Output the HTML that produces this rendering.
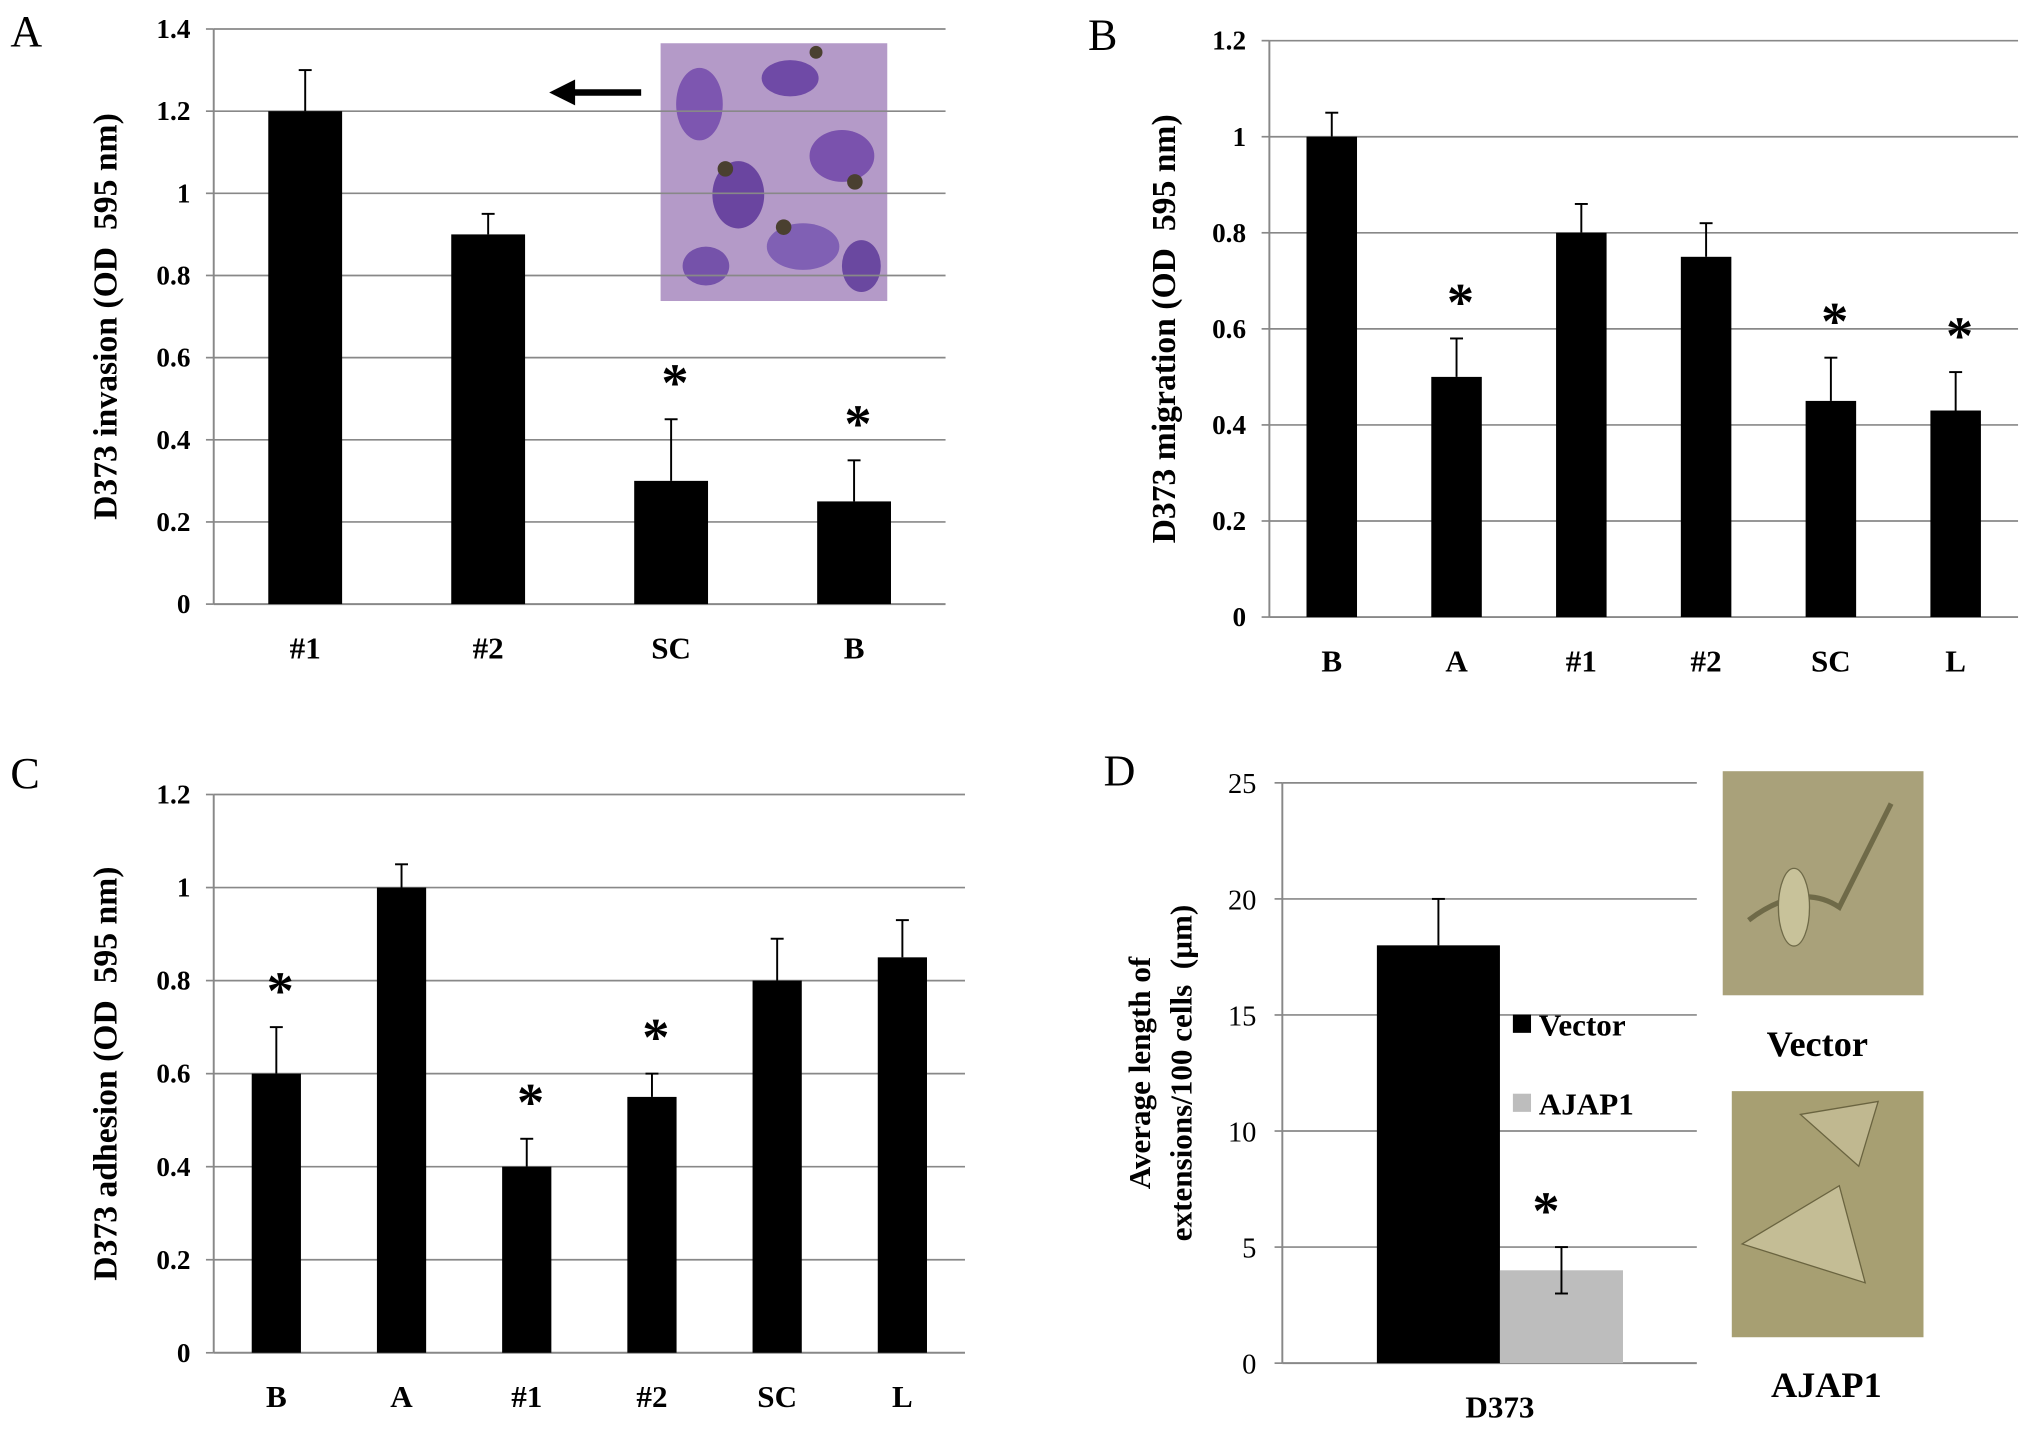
<!DOCTYPE html>
<html><head><meta charset="utf-8">
<style>
html,body{margin:0;padding:0;background:#fff;}
svg{display:block;}
text{font-family:"Liberation Serif",serif;white-space:pre;}
</style></head>
<body>
<svg id="fig" width="2031" height="1431" viewBox="0 0 1568 1104" xmlns="http://www.w3.org/2000/svg" xml:space="preserve">
<rect width="1568" height="1104" fill="#fff"/>
<g id="decor">
  <text x="8" y="35" font-size="34">A</text>
  <text x="840" y="38" font-size="34">B</text>
  <text x="8" y="608" font-size="34">C</text>
  <text x="852" y="606" font-size="34">D</text>
  <g>
    <rect x="510" y="33" width="175" height="199" fill="#b49ac8"/>
    <ellipse cx="540" cy="80" rx="18" ry="28" fill="#7d56b0"/>
    <ellipse cx="610" cy="60" rx="22" ry="14" fill="#6f4aa6"/>
    <ellipse cx="650" cy="120" rx="25" ry="20" fill="#7a52ad"/>
    <ellipse cx="570" cy="150" rx="20" ry="26" fill="#6a45a0"/>
    <ellipse cx="620" cy="190" rx="28" ry="18" fill="#8060b4"/>
    <ellipse cx="545" cy="205" rx="18" ry="15" fill="#7552aa"/>
    <ellipse cx="665" cy="205" rx="15" ry="20" fill="#6a48a0"/>
    <circle cx="560" cy="130" r="6" fill="#4a4030"/><circle cx="605" cy="175" r="6" fill="#4a4030"/>
    <circle cx="660" cy="140" r="6" fill="#4a4030"/><circle cx="630" cy="40" r="5" fill="#4a4030"/>
  </g>
  <g>
    <line x1="495" y1="71" x2="440" y2="71" stroke="#000" stroke-width="5"/>
    <polygon points="424,71 444,61 444,81" fill="#000"/>
  </g>
  <g>
    <rect x="1330" y="595" width="155" height="173" fill="#a9a17a"/>
    <path d="M1350 710 Q1390 680 1420 700 L1460 620" stroke="#6f6a48" stroke-width="4" fill="none"/>
    <ellipse cx="1385" cy="700" rx="12" ry="30" fill="#c8c29a" stroke="#6f6a48"/>
  </g>
  <g>
    <rect x="1337" y="842" width="148" height="190" fill="#a79f72"/>
    <polygon points="1345,960 1420,915 1440,990" fill="#c4bd95" stroke="#6a6440"/>
    <polygon points="1390,860 1450,850 1435,900" fill="#c0b890" stroke="#6a6440"/>
  </g>
  <text x="1403" y="815" font-size="28" font-weight="bold" text-anchor="middle">Vector</text>
  <text x="1410" y="1078" font-size="28" font-weight="bold" text-anchor="middle">AJAP1</text>
</g>
<g id="charts"></g>
</svg>
<script>
// Panel A data
const catsA = ["#1","#2","SC","B"];
const valsA = [1.2,0.9,0.3,0.25];
const errA = [0.1,0.05,0.15,0.1];
const starA = [false,false,true,true];
const ticksA = [0,0.2,0.4,0.6,0.8,1,1.2,1.4];
// Panel B data
const catsB = ["B","A","#1","#2","SC","L"];
const valsB = [1,0.5,0.8,0.75,0.45,0.43];
const errB = [0.05,0.08,0.06,0.07,0.09,0.08];
const starB = [false,true,false,false,true,true];
const ticksB = [0,0.2,0.4,0.6,0.8,1,1.2];
// Panel C data
const catsC = ["B","A","#1","#2","SC","L"];
const valsC = [0.6,1,0.4,0.55,0.8,0.85];
const errC = [0.1,0.05,0.06,0.05,0.09,0.08];
const starC = [true,false,true,true,false,false];
const ticksC = [0,0.2,0.4,0.6,0.8,1,1.2];
// Panel D data
const seriesD = ["Vector","AJAP1"];
const valsD = [18,4];
const errD = [2,1];
const starD = [false,true];
const ticksD = [0,5,10,15,20,25];

const NS="http://www.w3.org/2000/svg";
const root=document.getElementById('charts');
function mk(tag,attrs,parent){const e=document.createElementNS(NS,tag);for(const k in attrs)e.setAttribute(k,attrs[k]);(parent||root).appendChild(e);return e;}

function panel(cfg){
  const g=mk('g',{});
  
  
  const y=v=>cfg.y0-(v-0)/(cfg.ymax)*(cfg.y0-cfg.ytop);
  cfg.ticks.forEach(t=>{
    if(t>0){const l=mk('line',{x1:cfg.x0,x2:cfg.xr,y1:y(t),y2:y(t),stroke:'#888','stroke-width':1.3},g);
      
      }
    const tx=mk('text',{x:cfg.x0-18,y:y(t)+7,'font-size':21,'font-weight':'bold','text-anchor':'end'},g);
    tx.textContent=t;
    
    
    mk('line',{x1:cfg.x0-6,x2:cfg.x0,y1:y(t),y2:y(t),stroke:'#888','stroke-width':1.3},g);
  });
  mk('line',{x1:cfg.x0,x2:cfg.x0,y1:cfg.ytop,y2:cfg.y0,stroke:'#888','stroke-width':1.5},g);
  mk('line',{x1:cfg.x0,x2:cfg.xr,y1:cfg.y0,y2:cfg.y0,stroke:'#888','stroke-width':1.5},g);
  const n=cfg.cats.length, step=(cfg.xr-cfg.x0)/n;
  cfg.cats.forEach((c,i)=>{
    const cx=cfg.x0+step*(i+0.5), v=cfg.vals[i], e=cfg.err[i];
    const r=mk('rect',{x:cx-cfg.bw/2,y:y(v),width:cfg.bw,height:cfg.y0-y(v),fill:'#000'},g);
    
    
    mk('line',{x1:cx,x2:cx,y1:y(v),y2:y(v+e),stroke:'#000','stroke-width':1.5},g);
    mk('line',{x1:cx-5,x2:cx+5,y1:y(v+e),y2:y(v+e),stroke:'#000','stroke-width':1.5},g);
    if(cfg.star[i]){const s=mk('text',{x:cx+3,y:y(v+e)-14,'font-size':42,'font-weight':'bold','text-anchor':'middle'},g);s.textContent='*';
      
      }
    const t=mk('text',{x:cx,y:cfg.y0+42,'font-size':24,'font-weight':'bold','text-anchor':'middle'},g);
    t.textContent=c;
    
    
  });
  const yl=mk('text',{x:0,y:0,'font-size':26,'font-weight':'bold','text-anchor':'middle',transform:`translate(${cfg.ylx},${(cfg.ytop+cfg.y0)/2}) rotate(-90)`},g);
  yl.textContent=cfg.ylabel;
  
  
}
panel({name:'chart-invasion',cats:catsA,vals:valsA,err:errA,star:starA,ticks:ticksA,ymax:1.4,x0:165,xr:730,y0:466,ytop:22,bw:57,ylx:90,ylabel:'D373 invasion (OD  595 nm)'});
panel({name:'chart-migration',cats:catsB,vals:valsB,err:errB,star:starB,ticks:ticksB,ymax:1.2,x0:980,xr:1558,y0:476,ytop:31,bw:39,ylx:907,ylabel:'D373 migration (OD  595 nm)'});
panel({name:'chart-adhesion',cats:catsC,vals:valsC,err:errC,star:starC,ticks:ticksC,ymax:1.2,x0:165,xr:745,y0:1044,ytop:613,bw:38,ylx:90,ylabel:'D373 adhesion (OD  595 nm)'});

(function(){
  const x0=990,xr=1310,y0=1052,ytop=604,ymax=25;
  const y=v=>y0-v/ymax*(y0-ytop);
  const g=mk('g',{});
  
  
  ticksD.forEach(t=>{
    if(t>0)mk('line',{x1:x0,x2:xr,y1:y(t),y2:y(t),stroke:'#888','stroke-width':1.3},g);
    mk('line',{x1:x0-6,x2:x0,y1:y(t),y2:y(t),stroke:'#888','stroke-width':1.3},g);
    const tx=mk('text',{x:x0-20,y:y(t)+8,'font-size':22,'text-anchor':'end'},g);
    tx.textContent=t;
    
    
  });
  mk('line',{x1:x0,x2:x0,y1:ytop,y2:y0,stroke:'#888','stroke-width':1.5},g);
  mk('line',{x1:x0,x2:xr,y1:y0,y2:y0,stroke:'#888','stroke-width':1.5},g);
  const colors=['#000','#bdbdbd'], bw=95, start=1063;
  seriesD.forEach((s,i)=>{
    const bx=start+i*bw, cx=bx+bw/2, v=valsD[i], e=errD[i];
    const r=mk('rect',{x:bx,y:y(v),width:bw,height:y0-y(v),fill:colors[i]},g);
    
    
    const lo=i===0?v:v-e;
    mk('line',{x1:cx,x2:cx,y1:y(lo),y2:y(v+e),stroke:'#000','stroke-width':1.5},g);
    mk('line',{x1:cx-5,x2:cx+5,y1:y(v+e),y2:y(v+e),stroke:'#000','stroke-width':1.5},g);
    if(i===1)mk('line',{x1:cx-5,x2:cx+5,y1:y(v-e),y2:y(v-e),stroke:'#000','stroke-width':1.5},g);
    if(starD[i]){const st=mk('text',{x:cx-12,y:y(v+e)-14,'font-size':42,'font-weight':'bold','text-anchor':'middle'},g);st.textContent='*';
      
      }
    const ly=[797,858][i];
    const sw=mk('rect',{x:1168,y:ly-14,width:14,height:14,fill:colors[i]},g);
    
    
    const lt=mk('text',{x:1188,y:ly+2,'font-size':24,'font-weight':'bold'},g);
    lt.textContent=s;
    
    
  });
  const xl=mk('text',{x:1158,y:1094,'font-size':24,'font-weight':'bold','text-anchor':'middle'},g);
  xl.textContent='D373';
  
  
  const l1=mk('text',{x:0,y:0,'font-size':24,'font-weight':'bold','text-anchor':'middle',transform:`translate(888,828) rotate(-90)`},g);
  l1.textContent='Average length of';
  
  
  const l2=mk('text',{x:0,y:0,'font-size':24,'font-weight':'bold','text-anchor':'middle',transform:`translate(920,828) rotate(-90)`},g);
  l2.textContent='extensions/100 cells  (µm)';
  
  
})();
</script>
</body></html>
